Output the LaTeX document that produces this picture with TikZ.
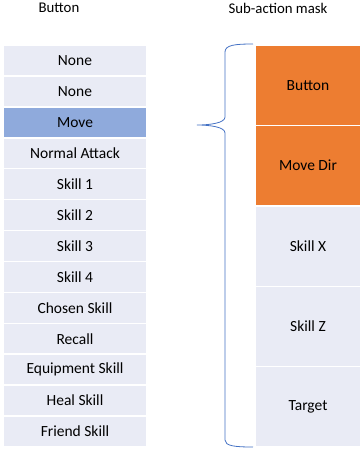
\documentclass[tikz,border=0pt]{standalone}
\usepackage{fontspec}
\setmainfont{Carlito}
\definecolor{lightrow}{HTML}{E9EBF5}
\definecolor{moverow}{HTML}{8FAADC}
\definecolor{orangebox}{HTML}{ED7D31}
\definecolor{bracecol}{HTML}{4472C4}
\begin{document}
\begin{tikzpicture}[x=1pt,y=-1pt,
  txt/.style={font=\fontsize{15.5}{18}\selectfont},
  ttl/.style={font=\fontsize{14.8}{18}\selectfont},
  cell/.style={rectangle, fill=lightrow, minimum width=142pt, minimum height=29.4pt, inner sep=0pt, txt},
  mcell/.style={cell, fill=moverow},
  bigcell/.style={rectangle, fill=lightrow, minimum width=104pt, minimum height=79pt, inner sep=0pt, txt},
  ocell/.style={bigcell, fill=orangebox},
  bracestyle/.style={draw=bracecol, line width=0.8pt}]
\useasboundingbox (0,0) rectangle (360,451);
\node[ttl] (t1) at (59,8) {Button};
\node[ttl] (t2) at (278,8) {Sub-action mask};
\node[cell]  (l1)  at (75,60.46)  {None};
\node[cell]  (l2)  at (75,91.38)  {None};
\node[mcell] (l3)  at (75,122.30) {Move};
\node[cell]  (l4)  at (75,153.22) {Normal Attack};
\node[cell]  (l5)  at (75,184.14) {Skill 1};
\node[cell]  (l6)  at (75,215.06) {Skill 2};
\node[cell]  (l7)  at (75,245.98) {Skill 3};
\node[cell]  (l8)  at (75,276.90) {Skill 4};
\node[cell]  (l9)  at (75,307.82) {Chosen Skill};
\node[cell]  (l10) at (75,338.74) {Recall};
\node[cell]  (l11) at (75,369.66) {Equipment Skill};
\node[cell]  (l12) at (75,400.58) {Heal Skill};
\node[cell]  (l13) at (75,431.50) {Friend Skill};
\node[ocell]   (r1) at (308,85.2)  {Button};
\node[ocell]   (r2) at (308,165.6) {Move Dir};
\node[bigcell] (r3) at (308,246.0) {Skill X};
\node[bigcell] (r4) at (308,326.4) {Skill Z};
\node[bigcell] (r5) at (308,406.8) {Target};
\coordinate (btop) at (253,44);
\coordinate (btip) at (197,125);
\coordinate (bbot) at (253,447);
\draw[bracestyle] (btop) .. controls (235,44) and (225,45) .. (225,52)
  -- (225,117) .. controls (225,123) and (210,125) .. (btip)
  .. controls (210,125) and (225,127) .. (225,133)
  -- (225,440) .. controls (225,446) and (235,447) .. (bbot);
\end{tikzpicture}
\end{document}
